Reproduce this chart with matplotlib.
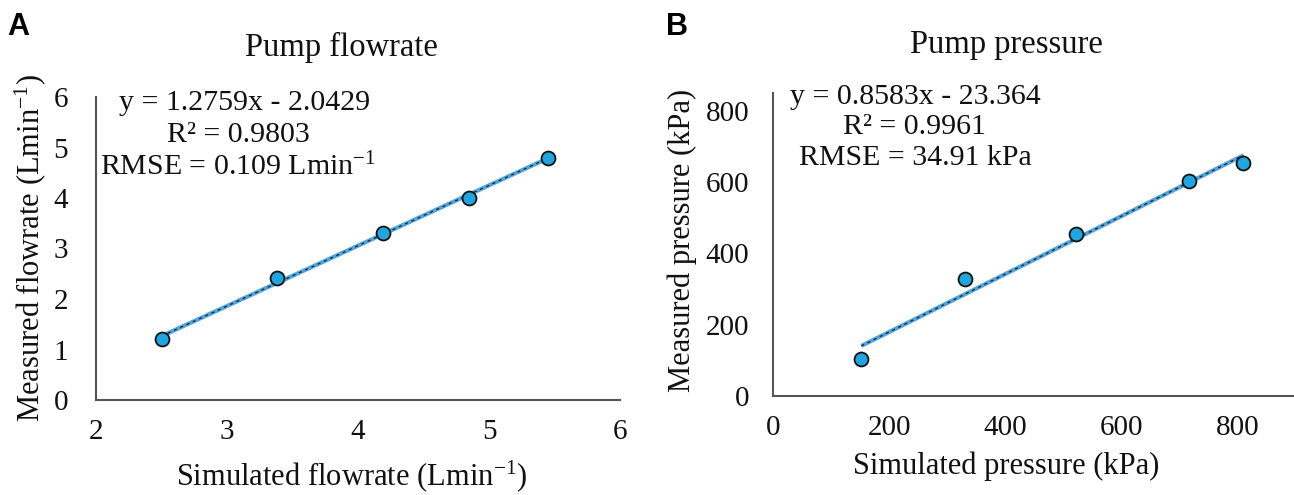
import numpy as np
import matplotlib
matplotlib.use("Agg")
import matplotlib.pyplot as plt

plt.rcParams['font.family'] = ['Liberation Serif', 'DejaVu Serif']
plt.rcParams['mathtext.fontset'] = 'custom'
plt.rcParams['mathtext.rm'] = 'Liberation Serif'
plt.rcParams['mathtext.it'] = 'Liberation Serif:italic'

# Data
flow_sim = [2.50, 3.38, 4.19, 4.85, 5.45]
flow_meas = [1.20, 2.41, 3.31, 4.00, 4.80]
press_sim = [152, 331, 522, 717, 810]
press_meas = [104, 328, 454, 603, 654]

flow_xticks = [2, 3, 4, 5, 6]
flow_yticks = [0, 1, 2, 3, 4, 5, 6]
press_xticks = [0, 200, 400, 600, 800]
press_yticks = [0, 200, 400, 600, 800]

W, H = 1294, 495
fig = plt.figure(figsize=(W / 100, H / 100), dpi=100)

pt_color = '#1FA6E0'
line_blue = '#4FA6DE'

def panel(rect, xs, ys, xlim, ylim, xticks, yticks, ypad):
    ax = fig.add_axes(rect)
    ax.set_xlim(*xlim)
    ax.set_ylim(*ylim)
    ax.set_xticks(xticks)
    ax.set_yticks(yticks)
    for s in ['top', 'right']:
        ax.spines[s].set_visible(False)
    for s in ['left', 'bottom']:
        ax.spines[s].set_color('#555555')
        ax.spines[s].set_linewidth(1.5)
    ax.tick_params(length=0, labelsize=21)
    ax.tick_params(axis='x', pad=14)
    ax.tick_params(axis='y', pad=ypad)
    ax.patch.set_alpha(0)
    # trendline
    xs_a = np.array(xs, dtype=float)
    k, b = np.polyfit(xs_a, np.array(ys, dtype=float), 1)
    tx = np.array([xs_a.min(), xs_a.max()])
    ax.plot(tx, k * tx + b, color=line_blue, lw=3.0, solid_capstyle='butt', zorder=2)
    ax.plot(tx, k * tx + b, color='#222222', lw=0.9, dashes=(2.5, 3), zorder=3)
    ax.scatter(xs, ys, s=100, color=pt_color, edgecolor='#111111', linewidth=1.3, zorder=4)
    for lab in ax.get_xticklabels() + ax.get_yticklabels():
        lab.set_color('#111111')
    return ax

axA = panel([96 / W, 1 - 400 / H, (620 - 96) / W, (400 - 97) / H],
            flow_sim, flow_meas, (2, 6), (0, 6), flow_xticks, flow_yticks, 20)
axB = panel([773 / W, 1 - 396 / H, (1294 - 773) / W, (396 - 93) / H],
            press_sim, press_meas, (0, 897), (0, 850), press_xticks, press_yticks, 17)

def ftext(x, y, s, **kw):
    fig.text(x / W, 1 - y / H, s, ha='center', va='center', color='#111111', **kw)

# Panel labels
fig.text(18 / W, 1 - 27 / H, 'A', ha='center', va='center', fontsize=22,
         fontweight='bold', family=['Liberation Sans', 'DejaVu Sans'])
fig.text(677 / W, 1 - 27 / H, 'B', ha='center', va='center', fontsize=22,
         fontweight='bold', family=['Liberation Sans', 'DejaVu Sans'])

# Titles
ftext(341, 47, 'Pump flowrate', fontsize=23.5)
ftext(1006, 45, 'Pump pressure', fontsize=23.5)

# Axis labels
ftext(352, 476, r'Simulated flowrate (Lmin$^{-1}$)', fontsize=22)
ftext(30, 248, r'Measured flowrate (Lmin$^{-1}$)', fontsize=22, rotation=90)
ftext(1006, 466, 'Simulated pressure (kPa)', fontsize=22)
ftext(682, 240, 'Measured pressure (kPa)', fontsize=22, rotation=90)

# Equations
ftext(245, 103, 'y = 1.2759x - 2.0429', fontsize=21.5)
ftext(238, 135, 'R² = 0.9803', fontsize=21.5)
ftext(238, 167, r'RMSE = 0.109 Lmin$^{-1}$', fontsize=21.5)
ftext(915, 97, 'y = 0.8583x - 23.364', fontsize=21.5)
ftext(914, 127, 'R² = 0.9961', fontsize=21.5)
ftext(915, 158, 'RMSE = 34.91 kPa', fontsize=21.5)

fig.savefig('out.png', dpi=100)
